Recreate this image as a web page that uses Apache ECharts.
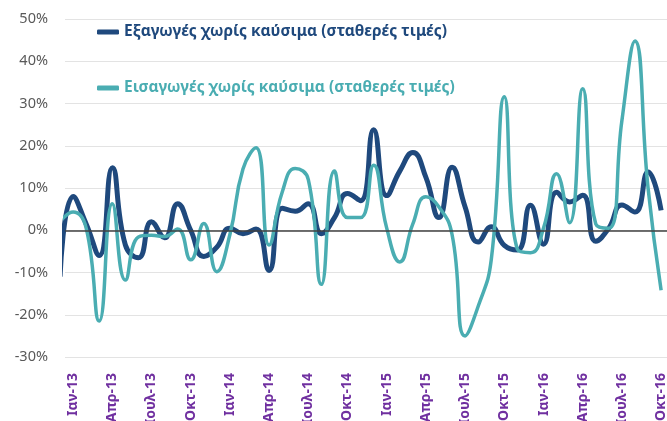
<!DOCTYPE html>
<html lang="el">
<head>
    <meta charset="UTF-8">
    <script src="https://cdn.jsdelivr.net/npm/echarts@6/dist/echarts.min.js"></script>
    <style>
        html, body { margin: 0; padding: 0; background: #fff; }
        #chart { width: 667px; height: 421px; }
    </style>
</head>
<body>
<div id="chart"></div>
<script>
    // μήνες: Δεκ-12 .. Οκτ-16 (ο πρώτος κόβεται στην αριστερή άκρη)
    var months = ['Δεκ-12',
        'Ιαν-13', 'Φεβ-13', 'Μαρ-13', 'Απρ-13', 'Μαϊ-13', 'Ιουν-13', 'Ιουλ-13', 'Αυγ-13', 'Σεπ-13', 'Οκτ-13', 'Νοε-13', 'Δεκ-13',
        'Ιαν-14', 'Φεβ-14', 'Μαρ-14', 'Απρ-14', 'Μαϊ-14', 'Ιουν-14', 'Ιουλ-14', 'Αυγ-14', 'Σεπ-14', 'Οκτ-14', 'Νοε-14', 'Δεκ-14',
        'Ιαν-15', 'Φεβ-15', 'Μαρ-15', 'Απρ-15', 'Μαϊ-15', 'Ιουν-15', 'Ιουλ-15', 'Αυγ-15', 'Σεπ-15', 'Οκτ-15', 'Νοε-15', 'Δεκ-15',
        'Ιαν-16', 'Φεβ-16', 'Μαρ-16', 'Απρ-16', 'Μαϊ-16', 'Ιουν-16', 'Ιουλ-16', 'Αυγ-16', 'Σεπ-16', 'Οκτ-16'];

    var exportsName = 'Εξαγωγές χωρίς καύσιμα (σταθερές τιμές)';
    var importsName = 'Εισαγωγές χωρίς καύσιμα (σταθερές τιμές)';

    // % μεταβολή
    var exportsVals = [-11,
        8, 1.5, -6, 14.8, -3.5, -6.5, 2, -1.8, 6.3, 0, -6.2, -4,
        0.5, -0.8, 0.3, -9.5, 5.2, 4.5, 6.3, -0.8, 3, 8.7, 7, 23.8,
        8.2, 14, 18.4, 12.5, 3, 14.9, 5.5, -2.8, 0.8, -3.6, -4.7, 5.9,
        -3.3, 9, 6.7, 8.3, -2.6, 0.5, 6, 4.3, 13.8, 4.7];
    var importsVals = [2,
        4.3, 0.5, -21.5, 6.3, -11.8, -1.6, -1.2, -1.5, 0.3, -7, 1.6, -9.8,
        -1, 14.5, 19.5, -3.5, 9, 14.6, 12, -12.8, 14, 3, 3, 15.4,
        0.5, -7.5, 1.5, 7.9, 5.5, -1, -25, -18, -7, 31.6, -4.5, -5.3,
        0.5, 13.4, 1.8, 33.5, 1.5, 0.5, 26, 44.8, 10, -14.2];

    var xTickIdx = [0, 3, 6, 9, 12, 15, 18, 21, 24, 27, 30, 33, 36, 39, 42, 45];

    function pairs(vals) {
        // x = δείκτης μήνα με Ιαν-13 = 0
        return vals.map(function (v, i) { return [i - 1, v]; });
    }

    var FONT = 'Noto Sans';
    var DARK = '#1F497D';
    var TEAL = '#4AADB2';

    var myChart = echarts.init(document.getElementById('chart'));
    var option = {
        animation: false,
        backgroundColor: '#fff',
        grid: { left: 65, right: 0, top: 19, bottom: 64, outerBoundsMode: 'none' },
        legend: {
            orient: 'vertical',
            left: 92,
            top: 19,
            itemGap: 40,
            itemWidth: 22,
            itemHeight: 5,
            icon: 'roundRect',
            textStyle: { fontFamily: FONT, fontSize: 15.5, fontWeight: 'bold' },
            data: [
                { name: exportsName, textStyle: { color: DARK } },
                { name: importsName, textStyle: { color: TEAL } }
            ]
        },
        xAxis: {
            type: 'value',
            min: -0.62,
            max: 45.45,
            axisLine: { show: false, onZero: false },
            axisTick: { show: false },
            splitLine: { show: false },
            axisLabel: {
                customValues: xTickIdx,
                rotate: 90,
                margin: 16,
                color: '#7030A0',
                fontFamily: FONT,
                fontSize: 14,
                fontWeight: 'bold',
                formatter: function (v) { return months[Math.round(v) + 1]; }
            }
        },
        yAxis: {
            type: 'value',
            min: -30,
            max: 50,
            interval: 10,
            axisLine: { show: false },
            axisTick: { show: false },
            splitLine: { lineStyle: { color: '#e3e3e3', width: 1 } },
            axisLabel: {
                margin: 17,
                color: '#595959',
                fontFamily: FONT,
                fontSize: 14.5,
                formatter: '{value}%'
            }
        },
        series: [
            {
                name: 'zero',
                type: 'line',
                data: [],
                z: 1,
                silent: true,
                markLine: {
                    silent: true,
                    symbol: 'none',
                    label: { show: false },
                    lineStyle: { color: '#404040', width: 1.5, type: 'solid' },
                    data: [{ yAxis: 0 }]
                }
            },
            {
                name: exportsName,
                type: 'line',
                data: pairs(exportsVals),
                smooth: 0.5,
                showSymbol: false,
                z: 2,
                itemStyle: { color: DARK },
                lineStyle: { color: DARK, width: 5 }
            },
            {
                name: importsName,
                type: 'line',
                data: pairs(importsVals),
                smooth: 0.5,
                showSymbol: false,
                z: 3,
                itemStyle: { color: TEAL },
                lineStyle: { color: TEAL, width: 3.5 }
            }
        ]
    };
    myChart.setOption(option);
</script>
</body>
</html>
